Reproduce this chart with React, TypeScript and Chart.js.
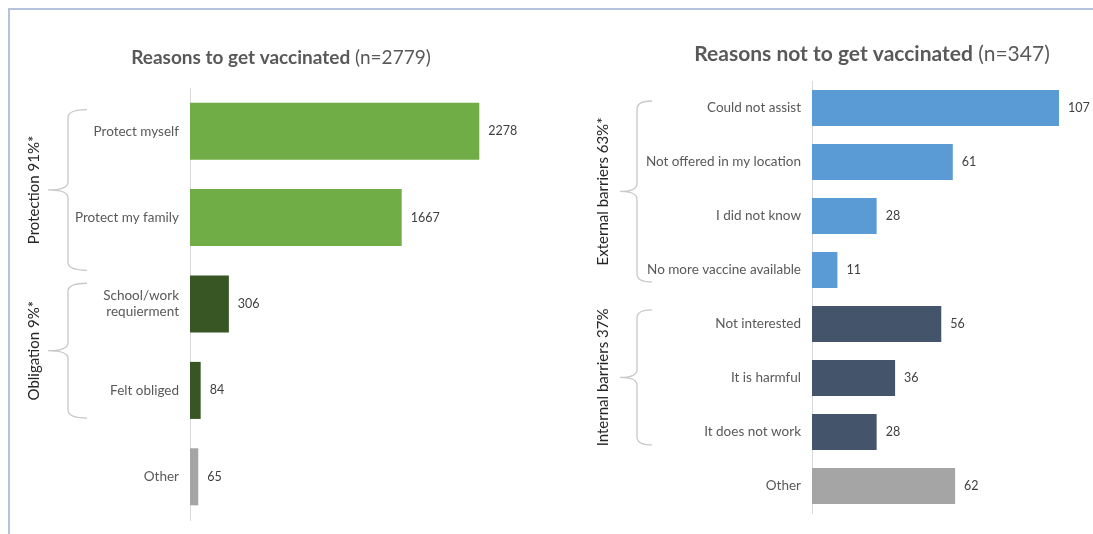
import React, { useEffect, useRef } from "react";
import { Chart, registerables } from "chart.js";

Chart.register(...registerables);

// ---------- data ----------
const toTitleBold = "Reasons to get vaccinated";
const toTitleNormal = " (n=2779)";
const toCategories: (string | string[])[] = [
  "Protect myself",
  "Protect my family",
  ["School/work", "requierment"],
  "Felt obliged",
  "Other",
];
const toValues = [2278, 1667, 306, 84, 65];
const toColors = ["#70AD47", "#70AD47", "#375623", "#375623", "#A5A5A5"];
const toGroupLabels = ["Protection 91%*", "Obligation 9%*"];
const toGroupFrom = [0, 2];
const toGroupTo = [1, 3];

const notTitleBold = "Reasons not to get vaccinated";
const notTitleNormal = " (n=347)";
const notCategories = [
  "Could not assist",
  "Not offered in my location",
  "I did not know",
  "No more vaccine available",
  "Not interested",
  "It is harmful",
  "It does not work",
  "Other",
];
const notValues = [107, 61, 28, 11, 56, 36, 28, 62];
const notColors = [
  "#5B9BD5",
  "#5B9BD5",
  "#5B9BD5",
  "#5B9BD5",
  "#44546A",
  "#44546A",
  "#44546A",
  "#A5A5A5",
];
const notGroupLabels = ["External barriers 63%*", "Internal barriers 37%"];
const notGroupFrom = [0, 4];
const notGroupTo = [3, 6];

const FONT = "Lato, 'Open Sans', sans-serif";

type PanelProps = {
  left: number;
  width: number;
  height: number;
  axisLeft: number;
  padTop: number;
  padBottom: number;
  padRight: number;
  xMax: number;
  barPct: number;
  categories: (string | string[])[];
  values: number[];
  colors: string[];
  titleBold: string;
  titleNormal: string;
  titleX: number;
  titleY: number;
  titleSize: number;
  groupLabels: string[];
  groupFrom: number[];
  groupTo: number[];
  groupPadTop: number[];
  groupPadBottom: number[];
  braceLine: number;
  braceEnd: number;
  braceTip: number;
  groupTextX: number;
};

function Panel(p: PanelProps) {
  const ref = useRef<HTMLCanvasElement | null>(null);
  useEffect(() => {
    if (!ref.current) return;
    const overlay = {
      id: "overlay",
      afterDraw(chart: any) {
        const ctx = chart.ctx as CanvasRenderingContext2D;
        const ys = chart.scales.y;
        const area = chart.chartArea;
        ctx.save();
        // value labels
        ctx.font = `12.5px ${FONT}`;
        ctx.fillStyle = "#404040";
        ctx.textBaseline = "middle";
        ctx.textAlign = "left";
        const meta = chart.getDatasetMeta(0);
        meta.data.forEach((bar: any, i: number) => {
          ctx.fillText(String(p.values[i]), bar.x + 9, bar.y);
        });
        // title
        const fb = `bold ${p.titleSize}px ${FONT}`;
        const fn = `${p.titleSize}px ${FONT}`;
        ctx.font = fb;
        const wb = ctx.measureText(p.titleBold).width;
        ctx.font = fn;
        const wn = ctx.measureText(p.titleNormal).width;
        const sx = p.titleX - (wb + wn) / 2;
        ctx.fillStyle = "#595959";
        ctx.font = fb;
        ctx.fillText(p.titleBold, sx, p.titleY);
        ctx.font = fn;
        ctx.fillText(p.titleNormal, sx + wb, p.titleY);
        // braces and group labels
        const step = ys.getPixelForValue(1) - ys.getPixelForValue(0);
        p.groupLabels.forEach((lab, g) => {
          const top = ys.getPixelForValue(p.groupFrom[g]) - p.groupPadTop[g] * step;
          const bot = ys.getPixelForValue(p.groupTo[g]) + p.groupPadBottom[g] * step;
          const mid = (top + bot) / 2;
          const xl = area.left + p.braceLine;
          const xe = area.left + p.braceEnd;
          const xt = area.left + p.braceTip;
          const r = 8;
          ctx.strokeStyle = "#c8c8c8";
          ctx.lineWidth = 1.3;
          ctx.beginPath();
          ctx.moveTo(xe, top);
          ctx.quadraticCurveTo(xl, top, xl, top + r);
          ctx.lineTo(xl, mid - r);
          ctx.quadraticCurveTo(xl, mid, xt, mid);
          ctx.quadraticCurveTo(xl, mid, xl, mid + r);
          ctx.lineTo(xl, bot - r);
          ctx.quadraticCurveTo(xl, bot, xe, bot);
          ctx.stroke();
          ctx.save();
          ctx.translate(area.left + p.groupTextX, mid);
          ctx.rotate(-Math.PI / 2);
          ctx.font = `15px ${FONT}`;
          ctx.fillStyle = "#262626";
          ctx.textAlign = "center";
          ctx.textBaseline = "middle";
          ctx.fillText(lab, 0, 0);
          ctx.restore();
        });
        ctx.restore();
      },
    };
    const chart = new Chart(ref.current, {
      type: "bar",
      data: {
        labels: p.categories as any,
        datasets: [
          {
            data: p.values,
            backgroundColor: p.colors,
            borderWidth: 0,
            barPercentage: p.barPct,
            categoryPercentage: 1,
          },
        ],
      },
      options: {
        indexAxis: "y",
        responsive: false,
        animation: false,
        layout: { padding: { top: p.padTop, bottom: p.padBottom, left: 0, right: p.padRight } },
        plugins: { legend: { display: false }, tooltip: { enabled: false } },
        scales: {
          x: { display: false, min: 0, max: p.xMax },
          y: {
            grid: { display: false, drawTicks: false },
            border: { display: true, color: "#d9d9d9", width: 1 },
            ticks: {
              color: "#595959",
              font: { family: FONT, size: 13.5 },
              padding: 11,
            },
            afterFit: (scale: any) => {
              scale.width = p.axisLeft;
              scale.paddingTop = 0;
              scale.paddingBottom = 0;
            },
          },
        },
      },
      plugins: [overlay],
    } as any);
    return () => chart.destroy();
  }, []);
  return (
    <canvas
      ref={ref}
      width={p.width}
      height={p.height}
      style={{ position: "absolute", left: p.left, top: 0, width: p.width, height: p.height }}
    />
  );
}

export default function App() {
  return (
    <div
      style={{
        position: "absolute",
        left: 0,
        top: 0,
        width: 1093,
        height: 534,
        background: "#ffffff",
        overflow: "hidden",
      }}
    >
      <div
        style={{
          position: "absolute",
          left: 8,
          top: 8,
          width: 1100,
          height: 540,
          borderTop: "2px solid #b4c3db",
          borderLeft: "2px solid #b4c3db",
        }}
      />
      <Panel
        left={0}
        width={580}
        height={534}
        axisLeft={190}
        padTop={88}
        padBottom={14}
        padRight={9}
        xMax={3000}
        barPct={0.66}
        categories={toCategories}
        values={toValues}
        colors={toColors}
        titleBold={toTitleBold}
        titleNormal={toTitleNormal}
        titleX={281}
        titleY={58}
        titleSize={19}
        groupLabels={toGroupLabels}
        groupFrom={toGroupFrom}
        groupTo={toGroupTo}
        groupPadTop={[0.25, 0.24]}
        groupPadBottom={[0.61, 0.32]}
        braceLine={-122}
        braceEnd={-103}
        braceTip={-142}
        groupTextX={-156}
      />
      <Panel
        left={580}
        width={513}
        height={534}
        axisLeft={232}
        padTop={81}
        padBottom={21}
        padRight={4}
        xMax={120}
        barPct={0.667}
        categories={notCategories}
        values={notValues}
        colors={notColors}
        titleBold={notTitleBold}
        titleNormal={notTitleNormal}
        titleX={872 - 580}
        titleY={54}
        titleSize={21}
        groupLabels={notGroupLabels}
        groupFrom={notGroupFrom}
        groupTo={notGroupTo}
        groupPadTop={[0.13, 0.26]}
        groupPadBottom={[0.22, 0.24]}
        braceLine={-175}
        braceEnd={-160}
        braceTip={-192}
        groupTextX={-209}
      />
    </div>
  );
}
